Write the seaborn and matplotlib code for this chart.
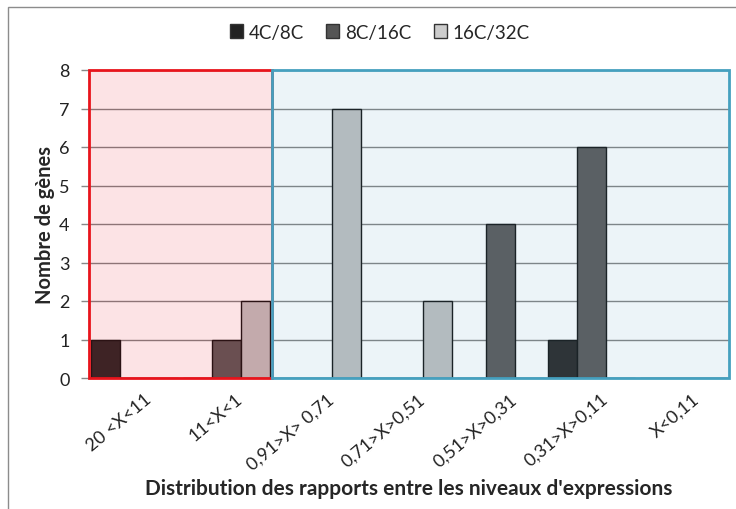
import matplotlib
matplotlib.use("Agg")
import matplotlib.pyplot as plt
from matplotlib.patches import Rectangle
from matplotlib.transforms import ScaledTranslation
import seaborn as sns
import pandas as pd

categories = ["20 <X<11", "11<X<1", "0,91>X> 0,71", "0,71>X>0,51",
              "0,51>X>0,31", "0,31>X>0,11", "X<0,11"]
series_names = ["4C/8C", "8C/16C", "16C/32C"]
vals_4c8c = [1, 0, 0, 0, 0, 1, 0]
vals_8c16c = [0, 1, 0, 0, 4, 6, 0]
vals_16c32c = [0, 2, 7, 2, 0, 0, 0]
series_colors = ["#262424", "#585656", "#bebebe"]

rows = []
for name, vals in zip(series_names, [vals_4c8c, vals_8c16c, vals_16c32c]):
    for cat, v in zip(categories, vals):
        rows.append({"cat": cat, "serie": name, "n": v})
df = pd.DataFrame(rows)

sns.set_theme(style="white")
plt.rcParams["font.family"] = ["Lato", "DejaVu Sans"]

fig = plt.figure(figsize=(7.36, 5.10), dpi=100)
ax = fig.add_axes([89 / 736, 1 - 379 / 510, 640 / 736, 308 / 510])

sns.barplot(data=df, x="cat", y="n", hue="serie", order=categories,
            hue_order=series_names, palette=series_colors, width=0.95,
            edgecolor="#111111", linewidth=1, ax=ax, legend=False, zorder=2)

ax.set_xlim(-0.5, len(categories) - 0.5)
ax.set_ylim(0, 8)
ax.set_yticks(range(0, 9))
ax.yaxis.grid(True, color="#808080", linewidth=1, zorder=1)
ax.set_axisbelow(True)
for s in ax.spines.values():
    s.set_visible(False)

# Shaded zones drawn over the bars
ax.add_patch(Rectangle((-0.5, 0), 2, 8, facecolor=(238 / 255, 30 / 255, 47 / 255, 0.12),
                       edgecolor="#e8141c", linewidth=2, zorder=3, clip_on=False))
ax.add_patch(Rectangle((1.5, 0), 5, 8, facecolor=(105 / 255, 172 / 255, 205 / 255, 0.12),
                       edgecolor="#45a0bf", linewidth=2, zorder=3, clip_on=False))

# Category ticks between groups, labels at group centres
ax.set_xticks([i - 0.5 for i in range(len(categories) + 1)], minor=True)
ax.tick_params(axis="x", which="minor", length=6, width=1, color="#888888", direction="out")
ax.tick_params(axis="x", which="major", length=0, pad=9)
ax.set_xticklabels(categories, rotation=40, ha="right", rotation_mode="anchor",
                   fontsize=13, color="#222222")
shift = ScaledTranslation(9 / 100, 0, fig.dpi_scale_trans)
for lab in ax.get_xticklabels():
    lab.set_transform(lab.get_transform() + shift)
ax.tick_params(axis="y", length=6, width=1, color="#888888", direction="out", pad=8,
               labelsize=13, labelcolor="#222222")
ax.tick_params(left=True, bottom=True)

ax.set_ylabel("Nombre de gènes", fontsize=14.5, fontweight="bold", labelpad=3)
ax.set_xlabel("Distribution des rapports entre les niveaux d'expressions",
              fontsize=15, fontweight="bold", labelpad=4)

handles = [Rectangle((0, 0), 1, 1, facecolor=c, edgecolor="#333333", linewidth=1)
           for c in ["#222222", "#555555", "#cccccc"]]
fig.legend(handles, series_names, loc="center", bbox_to_anchor=(0.516, 1 - 33 / 510),
           ncol=3, frameon=False, fontsize=13.5, handlelength=0.7, handleheight=0.7,
           handletextpad=0.3, columnspacing=1.2)

fig.add_artist(Rectangle((8 / 736, -0.1), 1.2, 1 - 8 / 510 + 0.1, transform=fig.transFigure,
                         fill=False, edgecolor="#8c8c8c", linewidth=1))

fig.savefig("out.png", dpi=100)
